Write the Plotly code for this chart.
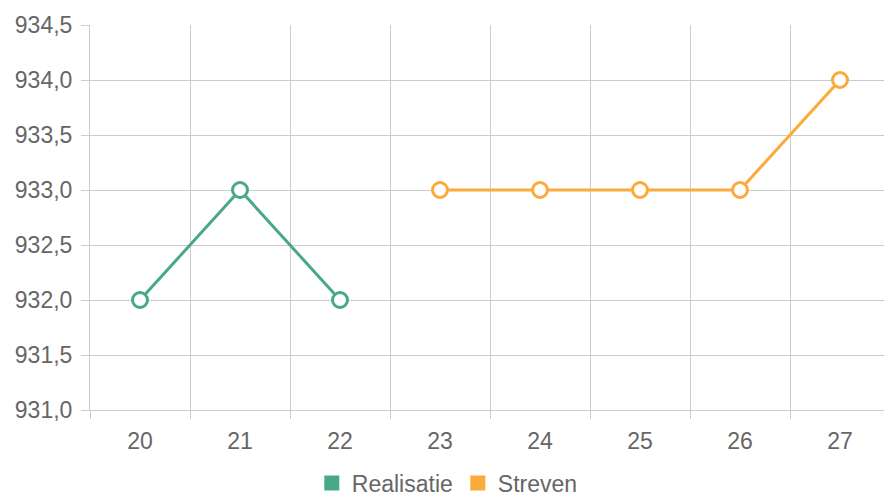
import plotly.graph_objects as go

categories = [20, 21, 22, 23, 24, 25, 26, 27]
realisatie = [932.0, 933.0, 932.0, None, None, None, None, None]
streven = [None, None, None, 933.0, 933.0, 933.0, 933.0, 934.0]
y_ticks = [931.0, 931.5, 932.0, 932.5, 933.0, 933.5, 934.0, 934.5]

GREEN = "#48a98a"
ORANGE = "#fbaa3b"
GRID = "#cccccc"
TEXT = "#666666"
FONT = "Liberation Sans, Arial, sans-serif"

fig = go.Figure()
for name, vals, col in [("Realisatie", realisatie, GREEN), ("Streven", streven, ORANGE)]:
    fig.add_trace(go.Scatter(
        x=categories, y=vals, mode="lines+markers", name=name, showlegend=False,
        line=dict(color=col, width=3),
        marker=dict(symbol="circle", size=15, color="white", line=dict(color=col, width=3)),
        hoverinfo="x+y",
    ))
    fig.add_trace(go.Scatter(
        x=[None], y=[None], mode="markers", name=name, showlegend=True,
        marker=dict(symbol="square", size=15, color=col),
    ))

bounds = [c - 0.5 for c in categories]

fig.update_layout(
    width=884, height=497,
    margin=dict(l=90, r=0, t=25, b=87),
    paper_bgcolor="white", plot_bgcolor="white",
    separators=",.",
    font=dict(family=FONT, size=23, color=TEXT),
    showlegend=True,
    legend=dict(orientation="h", x=0.45, xanchor="center",
                yref="container", y=0.028, yanchor="middle",
                font=dict(size=23, color=TEXT), itemclick=False, itemdoubleclick=False,
                tracegroupgap=0, itemwidth=30),
    xaxis=dict(
        range=[19.5, 27.44], tickmode="array", tickvals=categories,
        ticktext=[str(c) for c in categories],
        showgrid=False, ticks="", ticklabelstandoff=10, zeroline=False,
        showline=True, linecolor=GRID, linewidth=1,
        minor=dict(tickmode="array", tickvals=bounds, showgrid=True, gridcolor=GRID,
                   gridwidth=1, ticks="outside", ticklen=8, tickcolor=GRID, tickwidth=1),
        tickfont=dict(size=23, color=TEXT),
        fixedrange=True,
    ),
    yaxis=dict(
        range=[931.0, 934.5], tickmode="array", tickvals=y_ticks, tickformat=".1f",
        showgrid=True, gridcolor=GRID, gridwidth=1, zeroline=False,
        ticks="outside", ticklen=8, tickcolor=GRID, tickwidth=1, ticklabelstandoff=4,
        showline=True, linecolor=GRID, linewidth=1,
        tickfont=dict(size=23, color=TEXT),
        fixedrange=True,
    ),
)

fig.write_html("out.html", config={"displayModeBar": False},
               post_script="document.body.style.margin='0';document.body.style.overflow='hidden';")
